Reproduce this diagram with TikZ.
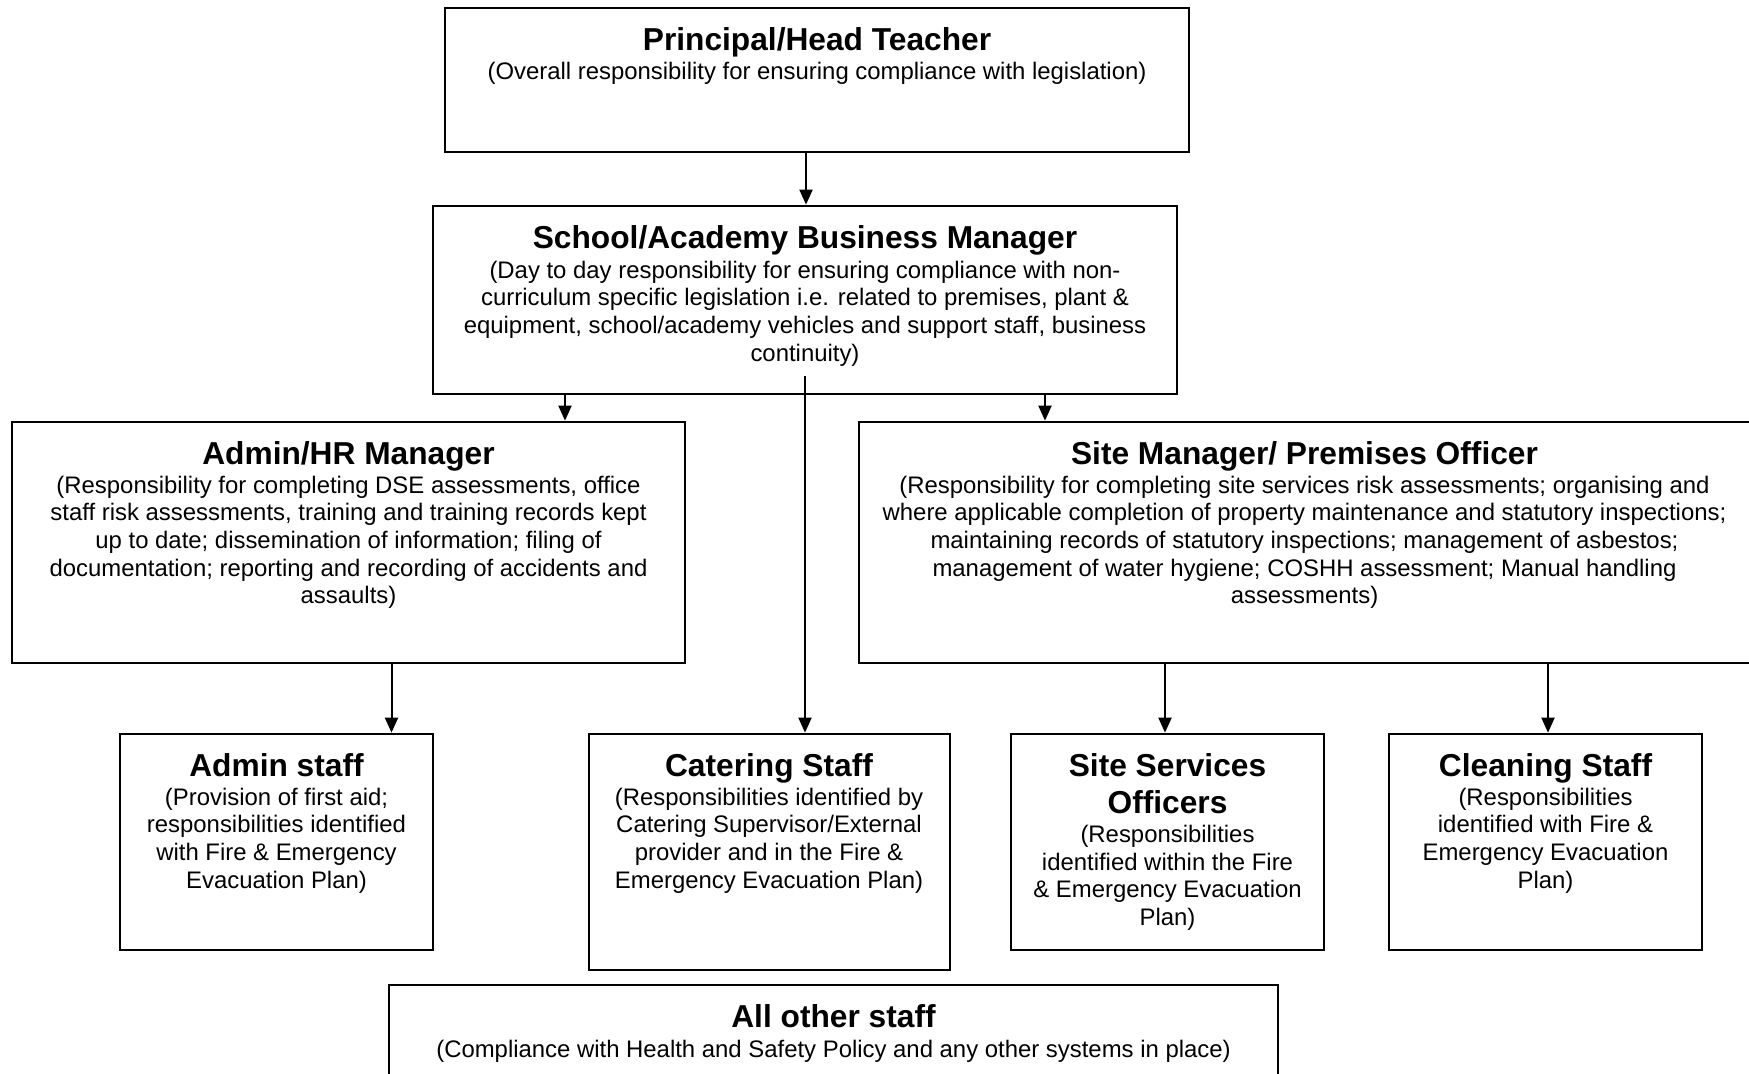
\documentclass[tikz,border=0pt]{standalone}
\usepackage{fontspec}
\setmainfont{Liberation Sans}
\usetikzlibrary{arrows.meta,fit}
\begin{document}
\begin{tikzpicture}[x=0.5pt,y=-0.5pt,
  box/.style={draw,line width=1.35pt,inner sep=0pt,rectangle},
  ttl/.style={font=\fontsize{15.85pt}{18.5pt}\selectfont\bfseries,align=center,inner sep=0pt},
  bdy/.style={font=\fontsize{11.95pt}{13.8pt}\selectfont,align=center,inner sep=0pt,anchor=north},
  arr/.style={line width=1pt,-{Triangle[length=7.5pt,width=6.5pt]}}]
\useasboundingbox (0,0) rectangle (1749,1074);
\clip (0,0) rectangle (1749,1074);
% boxes
\node[box,fit={(445,8)(1189,152)}] (ph) {};
\node[box,fit={(433,206)(1177,394)}] (bm) {};
\node[box,fit={(12,422)(685,663)}] (ahr) {};
\node[box,fit={(859,422)(1750,663)}] (sm) {};
\node[box,fit={(120,734)(433,950)}] (as) {};
\node[box,fit={(589,734)(950,970)}] (cat) {};
\node[box,fit={(1011,734)(1324,950)}] (sso) {};
\node[box,fit={(1389,734)(1702,950)}] (cln) {};
\node[box,fit={(389,985)(1278,1100)}] (aos) {};
% texts
\node[ttl,anchor=base] (phT) at (817,51) {Principal/Head Teacher};
\node[bdy] (phB) at (817,61.6) {(Overall responsibility for ensuring compliance with legislation)};
\node[ttl,anchor=base] (bmT) at (805,249) {School/Academy Business Manager};
\node[bdy] (bmB) at (805,260.6) {(Day to day responsibility for ensuring compliance with non-\\curriculum specific legislation i.e. related to premises, plant \&\\equipment, school/academy vehicles and support staff, business\\continuity)};
\node[ttl,anchor=base] (ahrT) at (348.5,465) {Admin/HR Manager};
\node[bdy] (ahrB) at (348.5,475.6) {(Responsibility for completing DSE assessments, office\\staff risk assessments, training and training records kept\\up to date; dissemination of information; filing of\\documentation; reporting and recording of accidents and\\assaults)};
\node[ttl,anchor=base] (smT) at (1304.5,465) {Site Manager/ Premises Officer};
\node[bdy] (smB) at (1304.5,475.6) {(Responsibility for completing site services risk assessments; organising and\\where applicable completion of property maintenance and statutory inspections;\\maintaining records of statutory inspections; management of asbestos;\\management of water hygiene; COSHH assessment; Manual handling\\assessments)};
\node[ttl,anchor=base] (asT) at (276.5,776) {Admin staff};
\node[bdy] (asB) at (276.5,787.5) {(Provision of first aid;\\responsibilities identified\\with Fire \& Emergency\\Evacuation Plan)};
\node[ttl,anchor=base] (catT) at (769,776) {Catering Staff};
\node[bdy] (catB) at (769,787.5) {(Responsibilities identified by\\Catering Supervisor/External\\provider and in the Fire \&\\Emergency Evacuation Plan)};
\node[ttl,anchor=base] (ssoT) at (1167.5,813) {Site Services\\Officers};
\node[bdy] (ssoB) at (1167.5,825) {(Responsibilities\\identified within the Fire\\\& Emergency Evacuation\\Plan)};
\node[ttl,anchor=base] (clnT) at (1545.5,776) {Cleaning Staff};
\node[bdy] (clnB) at (1545.5,787.5) {(Responsibilities\\identified with Fire \&\\Emergency Evacuation\\Plan)};
\node[ttl,anchor=base] (aosT) at (833.5,1027) {All other staff};
\node[bdy] (aosB) at (833.5,1039.4) {(Compliance with Health and Safety Policy and any other systems in place)};
% connectors
\coordinate (x1) at (806,0);
\coordinate (x2) at (565,0);
\coordinate (x3) at (1045,0);
\coordinate (x4) at (391.5,0);
\coordinate (x5) at (1165,0);
\coordinate (x6) at (1548,0);
\coordinate (cs) at (805,376);
\draw[arr] (ph.south -| x1) -- (bm.north -| x1);
\draw[arr] (bm.south -| x2) -- (ahr.north -| x2);
\draw[arr] (bm.south -| x3) -- (sm.north -| x3);
\draw[arr] (cs) -- (cat.north -| cs);
\draw[arr] (ahr.south -| x4) -- (as.north -| x4);
\draw[arr] (sm.south -| x5) -- (sso.north -| x5);
\draw[arr] (sm.south -| x6) -- (cln.north -| x6);
\end{tikzpicture}
\end{document}
